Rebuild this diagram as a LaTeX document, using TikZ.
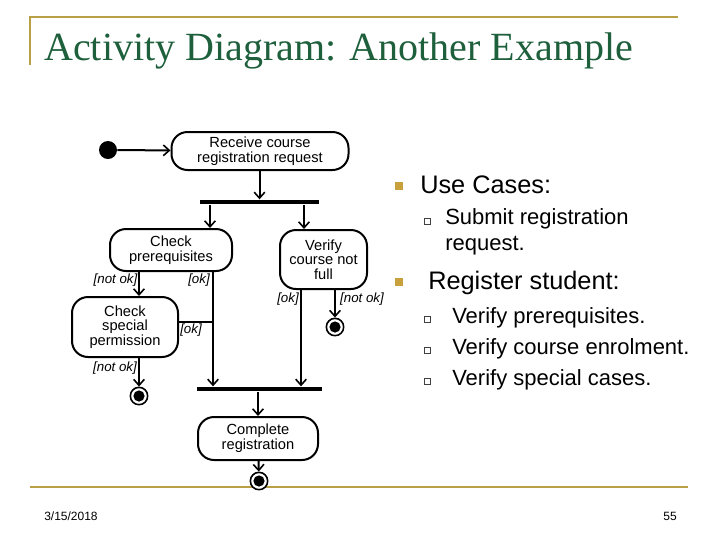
\documentclass[tikz,border=0pt]{standalone}
\usepackage{fontspec}
\setmainfont{Liberation Sans}
\newfontfamily\titlefont{Liberation Serif}
\usetikzlibrary{arrows.meta,calc}
\definecolor{gold}{RGB}{185,160,70}
\definecolor{bulletgold}{RGB}{200,160,60}
\definecolor{titlegreen}{RGB}{30,95,60}
\begin{document}
\begin{tikzpicture}[x=0.75pt,y=-0.75pt,
  act/.style={draw,line width=1.5pt,rounded corners=12pt,align=center,inner sep=0pt,
    font=\fontsize{11}{11}\selectfont},
  bar/.style={fill=black,inner sep=0pt,minimum height=3.6pt},
  arr/.style={line width=1.5pt,-{Straight Barb[length=4.5pt,width=8pt,line width=1.2pt]}},
  ln/.style={line width=1.5pt},
  grd/.style={font=\fontsize{10}{11}\selectfont\itshape,inner sep=1pt},
  startnode/.style={circle,fill=black,minimum size=13.5pt,inner sep=0pt},
  finalnode/.style={circle,draw,line width=1.2pt,minimum size=13pt,inner sep=0pt,fill=white,
    path picture={\fill[black] (path picture bounding box.center) circle (4.2pt);}},
  goldsq/.style={fill=bulletgold,minimum size=6pt,inner sep=0pt},
  hollowsq/.style={draw=black!75,line width=0.6pt,minimum size=4.6pt,inner sep=0pt},
  big/.style={font=\fontsize{19}{22}\selectfont,inner sep=0pt},
  mid/.style={font=\fontsize{16.5}{19.5}\selectfont,inner sep=0pt,align=left},
  foot/.style={font=\fontsize{9}{10}\selectfont,inner sep=0pt}
  ]
\useasboundingbox (0,0) rectangle (720,540);
\fill[white] (0,0) rectangle (720,540);

% frame lines
\draw[gold,line width=2pt] (30,65) -- (30,17) -- (678,17);
\draw[gold,line width=2pt] (30,487) -- (688,487);

% title
\node[anchor=base west,inner sep=0pt,text=titlegreen,font=\titlefont\fontsize{30}{34}\selectfont] (title) at (44,60) {Activity Diagram: Another Example};

% activity nodes
\node[startnode] (start) at (108,150) {};
\node[act,minimum width=132.75pt,minimum height=28.5pt] (recv) at (260,151) {Receive course\\registration request};
\node[bar,minimum width=89.25pt] (fork) at (259.5,202) {};
\node[act,minimum width=91.5pt,minimum height=31.5pt] (chk) at (171,250) {Check\\prerequisites};
\node[act,minimum width=65.25pt,minimum height=44.25pt] (ver) at (323.5,259.5) {Verify\\course not\\full};
\node[act,minimum width=79.5pt,minimum height=45pt] (csp) at (125,327) {Check\\special\\permission};
\node[bar,minimum width=93.75pt] (join) at (259.5,389) {};
\node[act,minimum width=90pt,minimum height=32.25pt] (cmp) at (258,438.5) {Complete\\registration};
\node[finalnode] (f1) at (139,396) {};
\node[finalnode] (f2) at (335,327) {};
\node[finalnode] (f3) at (259,481) {};

% x positions for connectors
\coordinate (xA) at (210,0);
\coordinate (xB) at (304,0);
\coordinate (xL) at (139,0);
\coordinate (xOK) at (213,0);
\coordinate (xV1) at (301,0);
\coordinate (xV2) at (335,0);
\coordinate (cspR) at (178,322);

% connectors
\draw[arr] (start) -- (recv);
\draw[arr] (recv.south -| fork) -- (fork.north);
\draw[arr] (fork.south -| xA) -- (chk.north -| xA);
\draw[arr] (fork.south -| xB) -- (ver.north -| xB);
\draw[arr] (chk.south -| xL) -- (csp.north -| xL);
\draw[arr] (chk.south -| xOK) -- (join.north -| xOK);
\draw[ln] (cspR) -- (cspR -| xOK);
\draw[arr] (csp.south -| xL) -- (f1);
\draw[arr] (ver.south -| xV1) -- (join.north -| xV1);
\draw[arr] (ver.south -| xV2) -- (f2);
\draw[arr] (join.south -| cmp) -- (cmp.north);
\draw[arr] (cmp) -- (f3);

% guard labels
\node[grd] (g1) at (115.5,280) {[not ok]};
\node[grd] (g2) at (199,280) {[ok]};
\node[grd] (g3) at (191,330) {[ok]};
\node[grd] (g4) at (115,368) {[not ok]};
\node[grd] (g5) at (288,299) {[ok]};
\node[grd] (g6) at (362,299) {[not ok]};

% right-hand text
\node[goldsq] (b1) at (399,186) {};
\node[big,anchor=base west] (t1) at (420,193) {Use Cases:};
\node[hollowsq] (s1) at (427,221) {};
\node[mid,anchor=base west] (t2) at (445,224) {Submit registration};
\node[mid,anchor=base west] (t2b) at (445,250) {request.};
\node[goldsq] (b2) at (399,282) {};
\node[big,anchor=base west] (t3) at (428,289) {Register student:};
\node[hollowsq] (s2) at (427,319) {};
\node[mid,anchor=base west] (t4) at (452,323) {Verify prerequisites.};
\node[hollowsq] (s3) at (427,350) {};
\node[mid,anchor=base west] (t5) at (452,354) {Verify course enrolment.};
\node[hollowsq] (s4) at (427,381) {};
\node[mid,anchor=base west] (t6) at (452,385) {Verify special cases.};

% footer
\node[foot,anchor=base west] (date) at (44,520) {3/15/2018};
\node[foot,anchor=base east] (page) at (677,520) {55};
\end{tikzpicture}
\end{document}
